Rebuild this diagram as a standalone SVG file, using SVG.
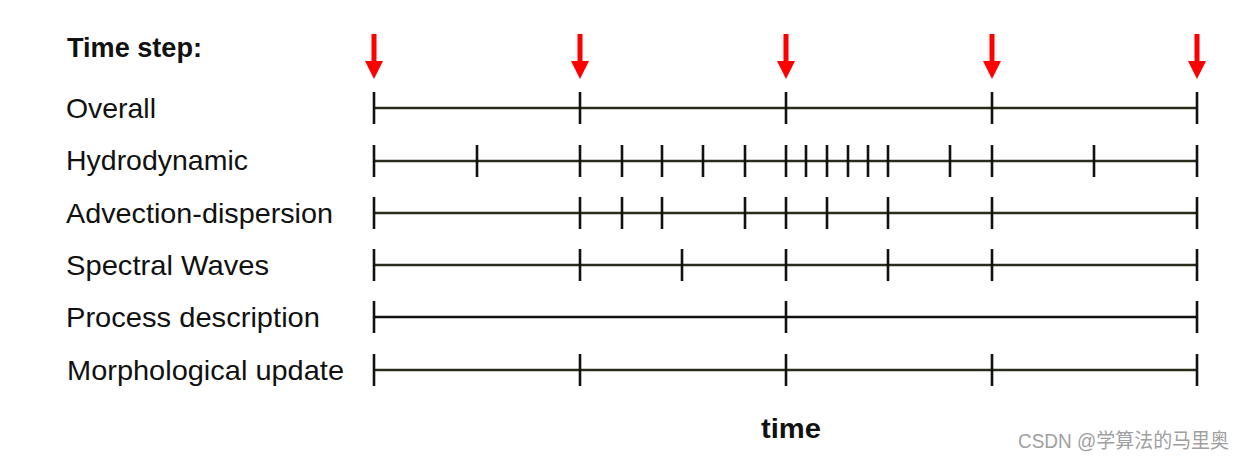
<svg xmlns="http://www.w3.org/2000/svg" width="1243" height="461" viewBox="0 0 1243 461">
<style>
.lbl{font-family:"Liberation Sans",Arial,sans-serif;font-size:28px;fill:#111;}
.bold{font-weight:bold;}
.axis{stroke:#2b2b1c;stroke-width:2.6;fill:none;}
.tick{stroke:#111;stroke-width:2.6;fill:none;}
.arrow{fill:#ff0000;}
.wm{font-family:"Liberation Sans",Arial,"Noto Sans CJK SC",sans-serif;font-size:20px;fill:#a0a0a0;}
</style>
<defs>
<path id="tk" d="M0,-16V16" class="tick"/>
<g id="arr"><rect x="-2.5" y="34" width="5" height="29" class="arrow"/><polygon points="-9,61 9,61 0,79" class="arrow"/></g>
</defs>
<rect width="1243" height="461" fill="#fff"/>
<text class="lbl bold" x="67" y="57" textLength="135" lengthAdjust="spacingAndGlyphs">Time step:</text>
<g id="arrows">
<use href="#arr" x="374"/><use href="#arr" x="580"/><use href="#arr" x="786"/><use href="#arr" x="992"/><use href="#arr" x="1197"/>
</g>
<g id="row-overall">
<text class="lbl" x="66" y="118" textLength="90" lengthAdjust="spacingAndGlyphs">Overall</text>
<line class="axis" x1="374" y1="108" x2="1197" y2="108"/>
<g transform="translate(0,108)"><use href="#tk" x="374"/><use href="#tk" x="580"/><use href="#tk" x="786"/><use href="#tk" x="992"/><use href="#tk" x="1197"/></g>
</g>
<g id="row-hydro">
<text class="lbl" x="66" y="170" textLength="182" lengthAdjust="spacingAndGlyphs">Hydrodynamic</text>
<line class="axis" x1="374" y1="161" x2="1197" y2="161"/>
<g transform="translate(0,161)"><use href="#tk" x="374"/><use href="#tk" x="477"/><use href="#tk" x="580"/><use href="#tk" x="622"/><use href="#tk" x="662"/><use href="#tk" x="703"/><use href="#tk" x="745"/><use href="#tk" x="786"/><use href="#tk" x="806"/><use href="#tk" x="827"/><use href="#tk" x="848"/><use href="#tk" x="868"/><use href="#tk" x="888"/><use href="#tk" x="950"/><use href="#tk" x="992"/><use href="#tk" x="1094"/><use href="#tk" x="1197"/></g>
</g>
<g id="row-advection">
<text class="lbl" x="66" y="223" textLength="267" lengthAdjust="spacingAndGlyphs">Advection-dispersion</text>
<line class="axis" x1="374" y1="213" x2="1197" y2="213"/>
<g transform="translate(0,213)"><use href="#tk" x="374"/><use href="#tk" x="580"/><use href="#tk" x="622"/><use href="#tk" x="662"/><use href="#tk" x="745"/><use href="#tk" x="786"/><use href="#tk" x="827"/><use href="#tk" x="888"/><use href="#tk" x="992"/><use href="#tk" x="1197"/></g>
</g>
<g id="row-spectral">
<text class="lbl" x="66" y="275" textLength="203" lengthAdjust="spacingAndGlyphs">Spectral Waves</text>
<line class="axis" x1="374" y1="265" x2="1197" y2="265"/>
<g transform="translate(0,265)"><use href="#tk" x="374"/><use href="#tk" x="580"/><use href="#tk" x="682"/><use href="#tk" x="786"/><use href="#tk" x="888"/><use href="#tk" x="992"/><use href="#tk" x="1197"/></g>
</g>
<g id="row-process">
<text class="lbl" x="66" y="327" textLength="254" lengthAdjust="spacingAndGlyphs">Process description</text>
<line class="axis" x1="374" y1="317" x2="1197" y2="317" style="stroke:#111"/>
<g transform="translate(0,317)"><use href="#tk" x="374"/><use href="#tk" x="786"/><use href="#tk" x="1197"/></g>
</g>
<g id="row-morph">
<text class="lbl" x="67" y="380" textLength="277" lengthAdjust="spacingAndGlyphs">Morphological update</text>
<line class="axis" x1="374" y1="370" x2="1197" y2="370"/>
<g transform="translate(0,370)"><use href="#tk" x="374"/><use href="#tk" x="580"/><use href="#tk" x="786"/><use href="#tk" x="992"/><use href="#tk" x="1197"/></g>
</g>
<text class="lbl bold" x="761" y="438" textLength="60" lengthAdjust="spacingAndGlyphs">time</text>
<text class="wm" x="1018" y="448" textLength="211" lengthAdjust="spacingAndGlyphs">CSDN @学算法的马里奥</text>
</svg>
